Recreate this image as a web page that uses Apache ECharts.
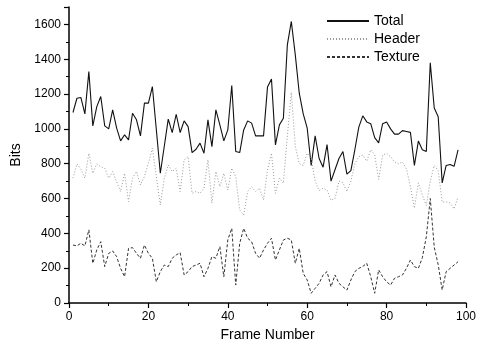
<!DOCTYPE html>
<html>
<head>
<meta charset="utf-8">
<script src="https://cdn.jsdelivr.net/npm/echarts@6/dist/echarts.min.js"></script>
<style>
  html, body { margin: 0; padding: 0; background: #fff; }
  #chart { width: 481px; height: 349px; }
</style>
</head>
<body>
<div id="chart"></div>
<script>
// frame numbers on the x axis
const frames = [
  1, 2, 3, 4, 5, 6, 7, 8, 9, 10, 11, 12, 13, 14, 15, 16, 17, 18, 19, 20,
  21, 22, 23, 24, 25, 26, 27, 28, 29, 30, 31, 32, 33, 34, 35, 36, 37, 38, 39, 40,
  41, 42, 43, 44, 45, 46, 47, 48, 49, 50, 51, 52, 53, 54, 55, 56, 57, 58, 59, 60,
  61, 62, 63, 64, 65, 66, 67, 68, 69, 70, 71, 72, 73, 74, 75, 76, 77, 78, 79, 80,
  81, 82, 83, 84, 85, 86, 87, 88, 89, 90, 91, 92, 93, 94, 95, 96, 97, 98
];
const totalBits = [
  1094, 1176, 1180, 1086, 1329, 1017, 1128, 1186, 1017, 1000, 1109, 1004, 931, 966, 937, 1090, 1052, 960, 1148, 1148,
  1243, 995, 745, 900, 1056, 979, 1084, 979, 1046, 1013, 864, 883, 918, 860, 1052, 898, 1109, 1023, 931, 994,
  1249, 870, 864, 994, 1046, 1033, 960, 960, 960, 1240, 1287, 908, 1023, 1061, 1483, 1617, 1425, 1205, 1086, 1004,
  790, 960, 830, 780, 910, 700, 765, 830, 870, 740, 760, 880, 1010, 1075, 1040, 1030, 950, 920, 1030, 1040,
  1000, 970, 970, 990, 985, 980, 790, 930, 880, 870, 1380, 1120, 1070, 690, 790, 795, 785, 880
];
const headerBits = [
  717, 799, 768, 717, 860, 745, 799, 783, 774, 717, 755, 697, 640, 745, 582, 717, 755, 678, 726, 803,
  889, 726, 563, 717, 793, 755, 774, 640, 822, 841, 630, 640, 630, 659, 822, 573, 755, 668, 745, 649,
  774, 726, 534, 506, 640, 668, 640, 659, 592, 764, 860, 630, 717, 688, 960, 1210, 900, 800, 790, 860,
  830, 700, 645, 659, 649, 590, 600, 700, 690, 640, 700, 800, 840, 850, 815, 880, 850, 710, 850, 860,
  840, 810, 800, 810, 770, 670, 545, 690, 620, 560, 700, 790, 760, 580, 580, 575, 540, 610
];
const textureBits = [
  333, 328, 343, 328, 420, 228, 305, 352, 209, 285, 299, 266, 199, 151, 314, 318, 285, 257, 333, 285,
  257, 122, 180, 218, 209, 257, 276, 289, 161, 180, 209, 218, 228, 151, 199, 266, 257, 324, 151, 362,
  429, 103, 343, 429, 372, 352, 285, 257, 305, 343, 372, 247, 305, 362, 372, 362, 228, 314, 170, 132,
  56, 84, 113, 161, 180, 93, 161, 113, 93, 74, 132, 180, 199, 210, 228, 151, 56, 190, 151, 122,
  103, 142, 151, 161, 199, 247, 209, 199, 260, 380, 600, 320, 220, 75, 180, 199, 218, 237
];
const seriesNames = ["Total", "Header", "Texture"];

function pairs(values) {
  return frames.map((f, i) => [f, values[i]]);
}

const font = "'Liberation Sans', Arial, sans-serif";
let myChart = echarts.init(document.getElementById("chart"), null, { renderer: "canvas" }),
  option;

const axisCommon = {
  axisLine: { show: true, lineStyle: { color: "#000", width: 1.5 } },
  axisTick: { show: true, length: 5, lineStyle: { color: "#000", width: 1.2 } },
  minorTick: { show: true, splitNumber: 2, length: 3, lineStyle: { color: "#000", width: 1 } },
  splitLine: { show: false },
  axisLabel: {
    color: "#000",
    fontSize: 12,
    fontFamily: font,
    margin: 8,
    formatter: function (v) {
      return String(v);
    }
  },
  nameTextStyle: { color: "#000", fontSize: 14, fontFamily: font }
};

option = {
  backgroundColor: "#fff",
  animation: false,
  grid: { left: 69, right: 15, top: 7, bottom: 46 },
  legend: {
    data: seriesNames,
    orient: "vertical",
    left: 321,
    top: 9,
    itemWidth: 42,
    itemHeight: 14,
    itemGap: 4,
    itemStyle: { opacity: 0 },
    textStyle: { color: "#000", fontSize: 14, fontFamily: font }
  },
  xAxis: Object.assign({}, axisCommon, {
    type: "value",
    min: 0,
    max: 100,
    interval: 20,
    name: "Frame Number",
    nameLocation: "middle",
    nameGap: 20
  }),
  yAxis: Object.assign({}, axisCommon, {
    type: "value",
    min: 0,
    max: 1700,
    interval: 200,
    name: "Bits",
    nameLocation: "middle",
    nameGap: 42,
    axisLabel: Object.assign({}, axisCommon.axisLabel, { showMaxLabel: false })
  }),
  series: [
    {
      name: "Total",
      type: "line",
      symbol: "none",
      data: pairs(totalBits),
      lineStyle: { color: "#111", width: 1.1, type: "solid" },
      itemStyle: { color: "#111" }
    },
    {
      name: "Header",
      type: "line",
      symbol: "none",
      data: pairs(headerBits),
      lineStyle: { color: "#999", width: 1, type: [1, 2] },
      itemStyle: { color: "#999" }
    },
    {
      name: "Texture",
      type: "line",
      symbol: "none",
      data: pairs(textureBits),
      lineStyle: { color: "#333", width: 1, type: [3, 2] },
      itemStyle: { color: "#333" }
    }
  ]
};

if (option && typeof option === "object") myChart.setOption(option);
window.addEventListener("resize", function () {
  myChart.resize();
});
</script>
</body>
</html>
